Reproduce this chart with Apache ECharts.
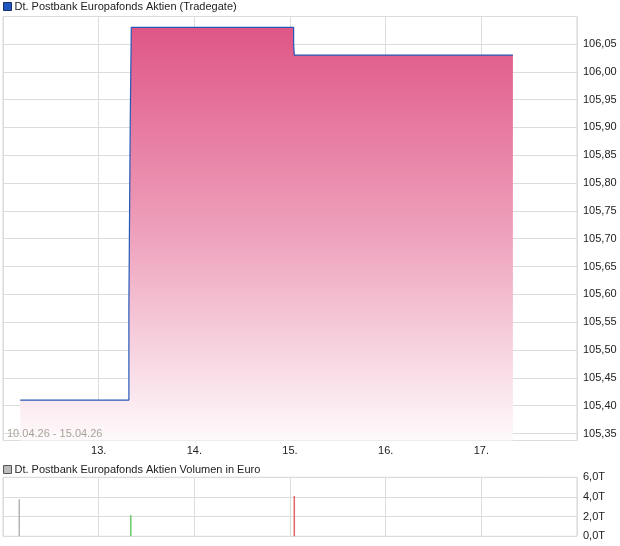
<!DOCTYPE html>
<html>
<head>
<meta charset="utf-8">
<script src="https://cdn.jsdelivr.net/npm/echarts@6/dist/echarts.min.js"></script>
<style>
  html, body { margin: 0; padding: 0; background: #fff; }
  #chart { width: 620px; height: 546px; }
</style>
</head>
<body>
<div id="chart"></div>
<script>
// Kursverlauf (Tag im April, Kurs)
const priceDays = [12.18, 13.316, 13.316, 13.330, 13.330, 13.341, 13.341, 15.038, 15.038, 15.045, 15.045, 17.33];
const priceValues = [105.41, 105.41, 105.58, 105.58, 105.91, 105.91, 106.08, 106.08, 106.05, 106.05, 106.03, 106.03];

// Volumen in Tausend Euro
const volDays = [12.17, 13.336, 15.045];
const volValues = [3.77, 2.17, 4.1];
const volColors = ['#b4b4b4', '#6cc96c', '#e06666'];

const dayTicks = [13, 14, 15, 16, 17];
const rangeText = '10.04.26 - 15.04.26';
const priceName = 'Dt. Postbank Europafonds Aktien (Tradegate)';
const volName = 'Dt. Postbank Europafonds Aktien Volumen in Euro';

const font = 'Liberation Sans, Arial, sans-serif';

let myChart = echarts.init(document.getElementById('chart'));

let option = {
  animation: false,
  textStyle: { fontFamily: font },
  legend: [
    {
      left: 1, top: 0, itemWidth: 8, itemHeight: 8, itemGap: 4,
      padding: [1, 2], textStyle: { fontSize: 11, color: '#222', fontFamily: font, padding: [0, 0, 0, -2] },
      data: [{ name: priceName, icon: 'rect', itemStyle: { color: '#1f55c0', borderColor: '#1a2f66', borderWidth: 1 } }]
    },
    {
      left: 1, top: 463, itemWidth: 8, itemHeight: 8, itemGap: 4,
      padding: [1, 2], textStyle: { fontSize: 11, color: '#222', fontFamily: font, padding: [0, 0, 0, -2] },
      data: [{ name: volName, icon: 'rect', itemStyle: { color: '#bbbbbb', borderColor: '#555', borderWidth: 1 } }]
    }
  ],
  grid: [
    { left: 3, right: 43, top: 16.5, height: 424, show: true, borderColor: '#d4d4d4', borderWidth: 1 },
    { left: 3, right: 43, top: 477.3, height: 59, show: true, borderColor: '#d4d4d4', borderWidth: 1 }
  ],
  xAxis: [
    {
      type: 'value', gridIndex: 0, min: 12, max: 18, interval: 1,
      axisLine: { show: false }, axisTick: { show: false },
      splitLine: { lineStyle: { color: '#dcdcdc' } },
      axisLabel: {
        fontSize: 11, color: '#222', margin: 5,
        formatter: v => dayTicks.includes(v) ? v + '.' : ''
      }
    },
    {
      type: 'value', gridIndex: 1, min: 12, max: 18, interval: 1,
      axisLine: { show: false }, axisTick: { show: false },
      splitLine: { lineStyle: { color: '#dcdcdc' } },
      axisLabel: { show: false }
    }
  ],
  yAxis: [
    {
      type: 'value', gridIndex: 0, position: 'right',
      min: 105.3374, max: 106.0994, splitNumber: 15,
      axisLine: { show: false }, axisTick: { show: false },
      splitLine: { lineStyle: { color: '#dcdcdc' } },
      axisLabel: {
        fontSize: 11, color: '#222', margin: 6, showMinLabel: false, showMaxLabel: false,
        formatter: v => {
          const r = Math.round(v * 20) / 20;
          if (Math.abs(r - v) > 1e-6) return '';
          return r.toFixed(2).replace('.', ',');
        }
      }
    },
    {
      type: 'value', gridIndex: 1, position: 'right',
      min: 0, max: 6, interval: 2,
      axisLine: { show: false }, axisTick: { show: false },
      splitLine: { lineStyle: { color: '#dcdcdc' } },
      axisLabel: {
        fontSize: 11, color: '#222', margin: 6,
        formatter: v => v.toFixed(1).replace('.', ',') + 'T'
      }
    }
  ],
  graphic: [
    {
      type: 'text', left: 7, top: 428, z: 100,
      style: { text: rangeText, fill: '#a8a29a', fontSize: 11, fontFamily: font }
    }
  ],
  series: [
    {
      name: priceName,
      type: 'line',
      xAxisIndex: 0, yAxisIndex: 0,
      showSymbol: false,
      data: priceDays.map((d, i) => [d, priceValues[i]]),
      lineStyle: { color: '#2458b8', width: 1.2 },
      itemStyle: { color: '#1f55c0' },
      areaStyle: {
        origin: 'start',
        opacity: 1,
        color: new echarts.graphic.LinearGradient(0, 0, 0, 1, [
          { offset: 0, color: '#df5686' },
          { offset: 0.5, color: '#eea1bc' },
          { offset: 1, color: '#fefafb' }
        ])
      }
    },
    {
      name: volName,
      type: 'bar',
      xAxisIndex: 1, yAxisIndex: 1,
      barWidth: 1.5,
      data: volDays.map((d, i) => ({ value: [d, volValues[i]], itemStyle: { color: volColors[i] } }))
    }
  ]
};

myChart.setOption(option);
</script>
</body>
</html>
